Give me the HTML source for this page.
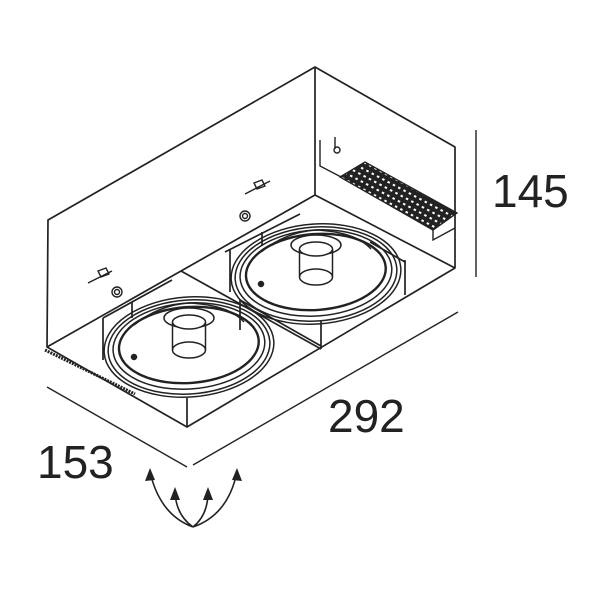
<!DOCTYPE html>
<html><head><style>body{margin:0;background:#fff}svg{display:block}</style></head><body>
<svg width="600" height="600" viewBox="0 0 600 600" xmlns="http://www.w3.org/2000/svg">
<defs>
<pattern id="hp" width="6" height="6" patternUnits="userSpaceOnUse" patternTransform="rotate(28)">
<rect width="6" height="6" fill="#222"/><rect x="1.5" y="1.5" width="2.5" height="2" fill="#fff"/>
</pattern>
<g id="lamp" fill="none" stroke="#222" stroke-width="1.5">
<ellipse cx="0" cy="0" rx="85" ry="50" transform="rotate(-4)"/>
<ellipse cx="0" cy="0" rx="81" ry="47" transform="rotate(-4)"/>
<ellipse cx="0" cy="-1" rx="76" ry="43" transform="rotate(-4)"/>
<ellipse cx="0" cy="-2" rx="70" ry="38" transform="rotate(-4)" stroke-width="2.4"/>
<path d="M-55,-22 Q-30,-42 0,-44 Q40,-42 55,-25" />
<ellipse cx="0" cy="-29" rx="25" ry="10"/>
<path d="M-16.5,-25 V3 M16.5,-25 V3"/>
<ellipse cx="0" cy="-25" rx="16.5" ry="7" fill="#fff"/>
<ellipse cx="0" cy="3" rx="16.5" ry="8"/>
<circle cx="-55" cy="10" r="2.5" fill="#222"/>
</g>
</defs>
<g fill="none" stroke="#222" stroke-width="1.7" stroke-linejoin="round">
<path d="M48,220 L315,67 L455,147 L455,268 L187,427 L47,347 Z"/>
<path d="M315,67 V195 M47,347 L315,195 L455,268"/>
<path d="M181,271 L321,349"/>
<path d="M103,318 V360 M132,302 V318 M187,398 V427 M240,299 V330 M230,250 V292 M262,232 V246 M321,320 V349 M405,260 V295"/>
<path d="M103,318 L172,280 M240,300 L321,346 M225,252 L300,214 M405,262 L370,242"/>
<path d="M45,350 L135,394" stroke-width="3" stroke-dasharray="2,1"/>
</g>
<use href="#lamp" x="189" y="347"/>
<use href="#lamp" x="316" y="274"/>
<g fill="none" stroke="#222" stroke-width="1.4">
<circle cx="117" cy="292" r="5"/><circle cx="117" cy="292" r="2.5"/>
<circle cx="245" cy="216" r="5"/><circle cx="245" cy="216" r="2.5"/>
<path d="M88,283 L112,271 M98,271 l8,-3 l3,6 l-8,3 z"/>
<path d="M245,194 L270,181 M254,183 l8,-3 l3,6 l-8,3 z"/>
<path d="M320,140 V166 L343,178 M335,137 v12"/>
<circle cx="337" cy="150" r="3"/>
<path d="M433,230 L433,240 L455,228"/>
</g>
<polygon points="340,177 365,162 457,213 433,230" fill="url(#hp)" stroke="#222" stroke-width="1.4"/>
<g stroke="#222" stroke-width="1.4" fill="none">
<line x1="47" y1="387" x2="187" y2="467"/>
<line x1="193" y1="465" x2="458" y2="312"/>
<line x1="476" y1="130" x2="476" y2="277"/>
<path d="M193,527 Q160,515 150,472 M193,527 Q176,515 175,492 M193,527 Q208,515 208,492 M193,527 Q228,515 237,472" stroke-width="1.6"/>
</g>
<g fill="#222">
<polygon points="150,468 145,481 155,480"/>
<polygon points="175,487 170,500 180,500"/>
<polygon points="208,487 203,500 213,500"/>
<polygon points="237,468 232,480 242,481"/>
</g>
<g font-family="Liberation Sans, sans-serif" font-size="46" fill="#222">
<text x="492" y="207">145</text>
<text x="328" y="432">292</text>
<text x="37" y="478">153</text>
</g>
</svg>
</body></html>
